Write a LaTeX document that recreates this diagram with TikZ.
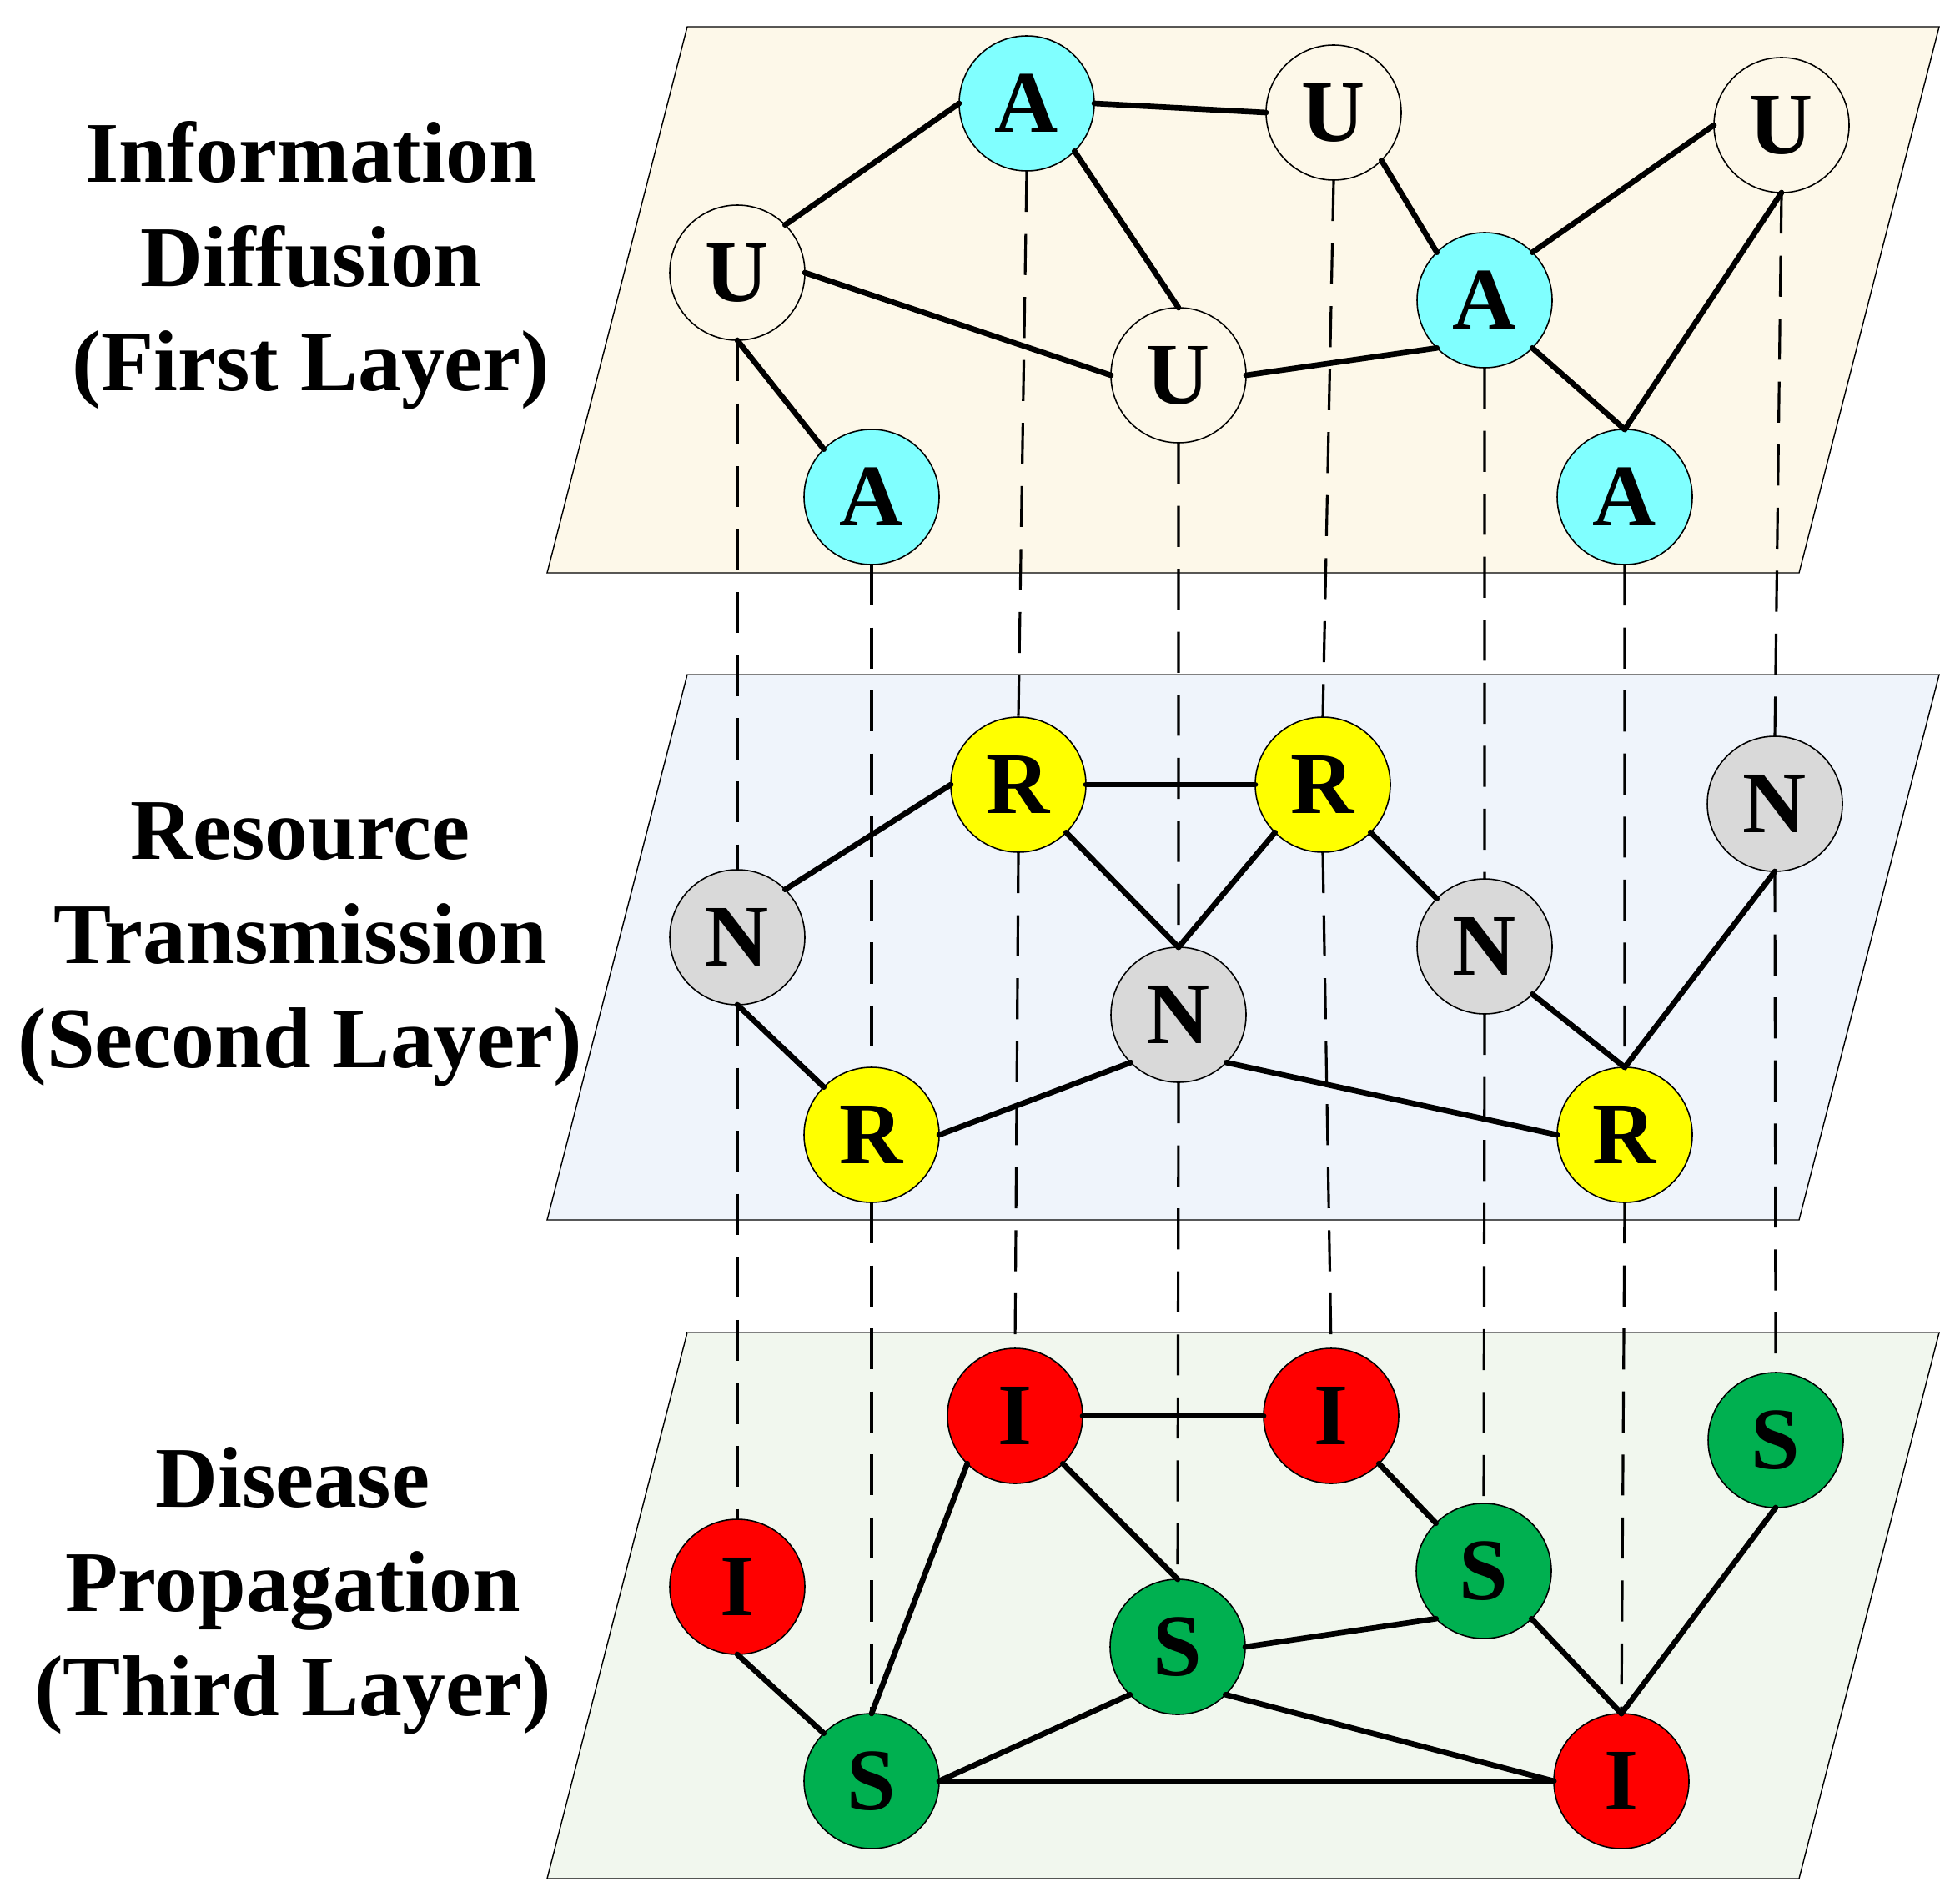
\documentclass[tikz,border=0pt]{standalone}
\usepackage{fontspec}
\setmainfont{Liberation Serif}
\usepackage{tikz}

\definecolor{firstbg}{RGB}{253,248,233}
\definecolor{secondbg}{RGB}{239,244,251}
\definecolor{thirdbg}{RGB}{241,247,238}
\definecolor{awarecol}{RGB}{128,255,255}
\definecolor{rescol}{RGB}{255,255,0}
\definecolor{nocol}{RGB}{217,217,217}
\definecolor{infcol}{RGB}{255,0,0}
\definecolor{suscol}{RGB}{0,176,80}

\begin{document}
\begin{tikzpicture}[
	vtx/.style={draw,circle,line width=0.45pt,inner sep=0,outer sep=0,minimum size=1.62cm,font=\fontsize{30}{36}\selectfont\bfseries},
	intra/.style={line width=1.9pt,line cap=round},
	inter/.style={line width=0.9pt,dash pattern=on 14pt off 7.5pt},
	sheet/.style={draw=black,line width=0.4pt},
	title/.style={align=center,font=\fontsize{29.5}{35.6}\selectfont\bfseries}]
	\useasboundingbox (0,0) rectangle (23.5,-22.81);
	% planes
	\fill[sheet,fill=firstbg] (8.24,-0.32) -- (23.25,-0.32) -- (21.57,-6.87) -- (6.56,-6.87) -- cycle;
	\fill[sheet,fill=secondbg] (8.24,-8.09) -- (23.25,-8.09) -- (21.57,-14.63) -- (6.56,-14.63) -- cycle;
	\fill[sheet,fill=thirdbg] (8.24,-15.98) -- (23.25,-15.98) -- (21.57,-22.53) -- (6.56,-22.53) -- cycle;
	\draw[gray,line width=0.8pt] (8.24,-8.09) -- (23.25,-8.09);
	\draw[gray,line width=0.8pt] (8.24,-15.98) -- (23.25,-15.98);
	% titles
	\node[title] (t1) at (3.73,-3.18) {Information\\Diffusion\\(First Layer)};
	\node[title] (t2) at (3.60,-11.33) {Resource\\Transmission\\(Second Layer)};
	\node[title] (t3) at (3.51,-19.08) {Disease\\Propagation\\(Third Layer)};
	% first layer
	\node[vtx,fill=firstbg] (a1) at (8.84,-3.27) {U};
	\node[vtx,fill=awarecol] (a2) at (10.45,-5.96) {A};
	\node[vtx,fill=awarecol] (a3) at (12.31,-1.24) {A};
	\node[vtx,fill=firstbg] (a4) at (14.13,-4.50) {U};
	\node[vtx,fill=firstbg] (a5) at (15.99,-1.35) {U};
	\node[vtx,fill=awarecol] (a6) at (17.80,-3.60) {A};
	\node[vtx,fill=awarecol] (a7) at (19.48,-5.96) {A};
	\node[vtx,fill=firstbg] (a8) at (21.36,-1.50) {U};
	% second layer
	\node[vtx,fill=nocol] (b1) at (8.84,-11.24) {N};
	\node[vtx,fill=rescol] (b2) at (10.45,-13.61) {R};
	\node[vtx,fill=rescol] (b3) at (12.21,-9.41) {R};
	\node[vtx,fill=nocol] (b4) at (14.13,-12.17) {N};
	\node[vtx,fill=rescol] (b5) at (15.86,-9.41) {R};
	\node[vtx,fill=nocol] (b6) at (17.80,-11.35) {N};
	\node[vtx,fill=rescol] (b7) at (19.48,-13.61) {R};
	\node[vtx,fill=nocol] (b8) at (21.28,-9.64) {N};
	% third layer
	\node[vtx,fill=infcol] (c1) at (8.84,-19.03) {I};
	\node[vtx,fill=suscol] (c2) at (10.45,-21.36) {S};
	\node[vtx,fill=infcol] (c3) at (12.17,-16.98) {I};
	\node[vtx,fill=suscol] (c4) at (14.12,-19.75) {S};
	\node[vtx,fill=infcol] (c5) at (15.96,-16.98) {I};
	\node[vtx,fill=suscol] (c6) at (17.79,-18.84) {S};
	\node[vtx,fill=infcol] (c7) at (19.44,-21.36) {I};
	\node[vtx,fill=suscol] (c8) at (21.29,-17.27) {S};
	% couplings between layers
	\draw[inter] (a1.south) -- (b1.north) (b1.south) -- (c1.north);
	\draw[inter] (a2.south) -- (b2.north) (b2.south) -- (c2.north);
	\draw[inter] (a3.south) -- (b3.north) (b3.south) -- (c3.north);
	\draw[inter] (a4.south) -- (b4.north) (b4.south) -- (c4.north);
	\draw[inter] (a5.south) -- (b5.north) (b5.south) -- (c5.north);
	\draw[inter] (a6.south) -- (b6.north) (b6.south) -- (c6.north);
	\draw[inter] (a7.south) -- (b7.north) (b7.south) -- (c7.north);
	\draw[inter] (a8.south) -- (b8.north) (b8.south) -- (c8.north);
	% links in the first layer
	\draw[intra] (a1.north east) -- (a3.west);
	\draw[intra] (a3.east) -- (a5.west);
	\draw[intra] (a3.south east) -- (a4.north);
	\draw[intra] (a1.east) -- (a4.west);
	\draw[intra] (a1.south) -- (a2.north west);
	\draw[intra] (a5.south east) -- (a6.north west);
	\draw[intra] (a6.north east) -- (a8.west);
	\draw[intra] (a4.east) -- (a6.south west);
	\draw[intra] (a6.south east) -- (a7.north);
	\draw[intra] (a8.south) -- (a7.north);
	% links in the second layer
	\draw[intra] (b1.north east) -- (b3.west);
	\draw[intra] (b3.east) -- (b5.west);
	\draw[intra] (b3.south east) -- (b4.north);
	\draw[intra] (b5.south west) -- (b4.north);
	\draw[intra] (b5.south east) -- (b6.north west);
	\draw[intra] (b1.south) -- (b2.north west);
	\draw[intra] (b2.east) -- (b4.south west);
	\draw[intra] (b4.south east) -- (b7.west);
	\draw[intra] (b6.south east) -- (b7.north);
	\draw[intra] (b8.south) -- (b7.north);
	% links in the third layer
	\draw[intra] (c3.east) -- (c5.west);
	\draw[intra] (c3.south west) -- (c2.north);
	\draw[intra] (c3.south east) -- (c4.north);
	\draw[intra] (c5.south east) -- (c6.north west);
	\draw[intra] (c4.east) -- (c6.south west);
	\draw[intra] (c6.south east) -- (c7.north);
	\draw[intra] (c8.south) -- (c7.north);
	\draw[intra] (c1.south) -- (c2.north west);
	\draw[intra] (c2.east) -- (c4.south west);
	\draw[intra] (c4.south east) -- (c7.west);
	\draw[intra] (c2.east) -- (c7.west);
\end{tikzpicture}
\end{document}
